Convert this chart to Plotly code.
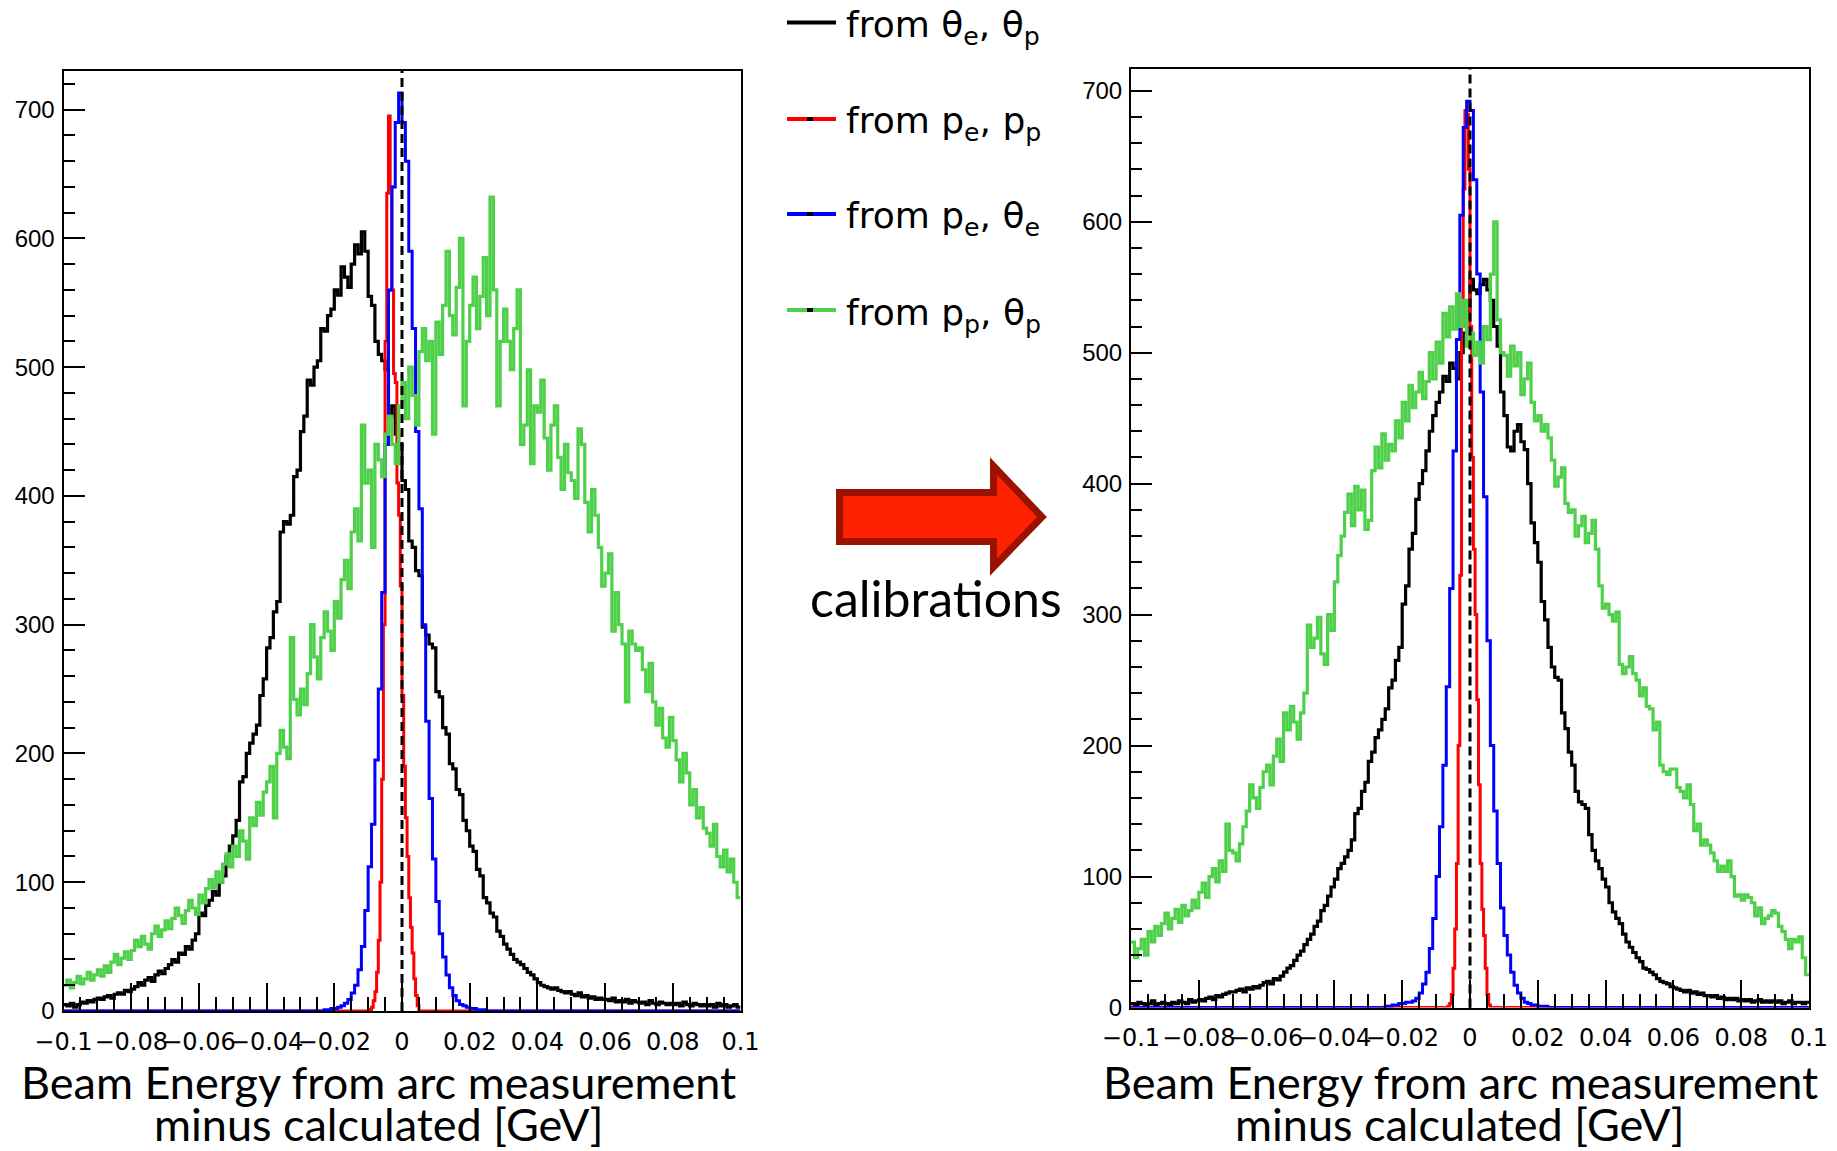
import numpy as np
import plotly.graph_objects as go

W, H = 1837, 1151

# ---------------- data ----------------
# broad histograms: 200 bins of 0.001 GeV from -0.1 to 0.1
broad_start, broad_width = -0.1, 0.001

left_theta_theta = [
    5, 4, 6, 3, 5, 7, 6, 8, 7, 9,
    10, 9, 11, 12, 10, 13, 14, 13, 16, 15,
    17, 19, 22, 20, 24, 26, 23, 28, 31, 29,
    33, 36, 40, 38, 45, 44, 50, 48, 55, 60,
    76, 74, 82, 86, 93, 90, 100, 105, 120, 128,
    136, 148, 178, 182, 200, 208, 215, 222, 245, 258,
    282, 290, 310, 318, 372, 380, 378, 385, 415, 420,
    450, 462, 490, 486, 500, 505, 530, 528, 540, 545,
    560, 556, 578, 570, 562, 580, 595, 588, 605, 590,
    555, 548, 520, 510, 505, 498, 462, 470, 448, 440,
    412, 405, 365, 360, 342, 338, 298, 292, 285, 282,
    248, 244, 220, 215, 192, 188, 172, 168, 148, 140,
    128, 124, 110, 105, 88, 84, 76, 73, 62, 58,
    52, 48, 44, 40, 38, 36, 33, 30, 28, 25,
    22, 20, 19, 18, 17, 18, 16, 15, 14, 15,
    13, 12, 14, 11, 12, 10, 11, 9, 10, 9,
    9, 8, 10, 7, 8, 7, 9, 6, 8, 7,
    6, 7, 5, 8, 6, 5, 7, 6, 5, 6,
    5, 6, 4, 7, 5, 4, 6, 5, 4, 5,
    4, 5, 3, 6, 4, 5, 3, 4, 5, 3]

left_pp_thetap = [
    20, 24, 18, 22, 27, 21, 25, 30, 24, 28,
    32, 27, 35, 30, 38, 44, 36, 41, 46, 40,
    47, 55, 50, 58, 52, 48, 60, 66, 58, 63,
    70, 64, 72, 80, 74, 68, 78, 86, 80, 75,
    90, 84, 95, 102, 96, 108, 100, 114, 122, 112,
    128, 120, 140, 132, 118, 150, 144, 162, 152, 170,
    178, 190, 150, 200, 218, 205, 196, 290, 242, 230,
    250, 238, 262, 300, 275, 258, 290, 310, 295, 280,
    318, 305, 335, 350, 328, 372, 390, 365, 455, 410,
    420, 360, 440, 428, 415, 448, 462, 440, 425, 470,
    488, 460, 500, 478, 455, 512, 530, 505, 520, 448,
    535, 510, 548, 590, 540, 525, 562, 600, 470, 520,
    548, 570, 530, 555, 585, 540, 632, 560, 470, 520,
    545, 520, 498, 530, 560, 440, 455, 498, 425, 470,
    465, 490, 445, 420, 455, 470, 430, 405, 440, 418,
    412, 398, 452, 440, 395, 372, 405, 385, 360, 330,
    340, 355, 295, 325, 300, 285, 240, 295, 285, 280,
    282, 265, 248, 270, 240, 222, 235, 212, 205, 228,
    210, 195, 178, 200, 185, 160, 172, 150, 158, 142,
    138, 128, 145, 120, 112, 125, 108, 118, 100, 88]

right_theta_theta = [
    3, 2, 4, 3, 2, 3, 5, 2, 3, 4,
    3, 2, 4, 3, 5, 4, 3, 6, 4, 5,
    6, 5, 7, 8, 6, 9, 8, 10, 11, 12,
    12, 13, 14, 12, 15, 14, 16, 15, 17, 19,
    20, 18, 22, 21, 24, 27, 30, 32, 36, 40,
    43, 48, 52, 56, 62, 66, 74, 78, 85, 92,
    98, 106, 110, 115, 120, 128, 148, 152, 165, 172,
    188, 195, 206, 212, 220, 228, 244, 250, 265, 275,
    308, 322, 350, 362, 388, 400, 410, 425, 440, 452,
    462, 470, 482, 478, 492, 488, 480, 500, 515, 532,
    556, 548, 545, 552, 556, 548, 540, 520, 505, 470,
    452, 428, 425, 440, 445, 432, 426, 400, 370, 355,
    340, 310, 296, 275, 260, 252, 250, 225, 213, 195,
    185, 165, 157, 155, 152, 132, 120, 112, 106, 98,
    92, 80, 73, 68, 64, 56, 50, 46, 42, 38,
    35, 30, 29, 27, 25, 22, 20, 19, 18, 16,
    15, 14, 13, 12, 13, 11, 12, 10, 11, 9,
    9, 8, 9, 7, 8, 6, 7, 6, 7, 5,
    6, 5, 6, 4, 5, 6, 4, 5, 4, 5,
    4, 5, 3, 4, 5, 3, 4, 4, 3, 4]

right_pp_thetap = [
    50, 38, 45, 52, 40, 58, 50, 62, 55, 64,
    72, 60, 68, 75, 65, 78, 70, 74, 82, 76,
    88, 95, 84, 100, 106, 96, 112, 104, 140, 120,
    118, 112, 125, 138, 150, 170, 160, 152, 168, 180,
    185, 170, 192, 205, 188, 225, 212, 230, 218, 205,
    225, 240, 292, 275, 282, 298, 270, 262, 300, 288,
    325, 345, 360, 378, 392, 368, 398, 380, 395, 365,
    372, 410, 428, 412, 438, 418, 430, 425, 448, 435,
    462, 448, 475, 458, 470, 485, 465, 478, 500, 480,
    508, 492, 530, 512, 535, 518, 545, 520, 540, 505,
    515, 498, 508, 492, 520, 510, 560, 600, 525, 500,
    498, 482, 505, 490, 500, 468, 480, 492, 462, 448,
    452, 440, 445, 435, 418, 398, 405, 412, 385, 378,
    380, 360, 368, 375, 355, 362, 372, 350, 322, 305,
    308, 300, 295, 302, 262, 255, 260, 268, 255, 250,
    238, 244, 230, 228, 212, 218, 185, 180, 178, 182,
    182, 168, 165, 160, 170, 155, 135, 140, 124, 128,
    124, 118, 112, 104, 108, 104, 112, 100, 85, 86,
    82, 86, 84, 80, 70, 76, 64, 68, 70, 74,
    72, 62, 58, 52, 45, 52, 50, 54, 38, 25]

# p_e, theta_e : bins of 0.001 GeV from -0.03 to 0.03
pe_start, pe_width = -0.03, 0.001
left_pe_thetae = [0, 0, 0, 0, 0, 0, 0, 1, 1, 2, 2, 3, 4, 6, 9, 14, 20, 32, 50, 78,
                  112, 145, 195, 250, 325, 440, 560, 640, 690, 713, 690, 660, 590, 530, 450, 390, 300, 225, 165, 118,
                  85, 60, 42, 28, 18, 12, 8, 5, 4, 3, 2, 2, 1, 1, 1, 0, 0, 0, 0, 0]
right_pe_thetae = [0, 0, 0, 0, 0, 1, 1, 2, 2, 3, 3, 4, 4, 5, 7, 11, 18, 27, 45, 68,
                   100, 138, 185, 245, 320, 425, 510, 605, 672, 692, 685, 632, 560, 470, 390, 280, 200, 150, 110, 76,
                   55, 40, 27, 17, 11, 7, 4, 3, 2, 2, 1, 1, 1, 0, 0, 0, 0, 0, 0, 0]

# p_e, p_p : bins of 0.0005 GeV
left_pp_start, right_pp_start, pp_width = -0.0100, -0.0070, 0.0005
left_pe_pp = [0, 1, 3, 8, 15, 30, 55, 100, 180, 300, 520, 635, 695, 640, 560, 495,
              488, 410, 385, 330, 245, 190, 150, 120, 88, 65, 45, 25, 12, 4, 0]
right_pe_pp = [0, 1, 3, 10, 30, 60, 110, 200, 330, 520, 625, 685, 682, 640,
               520, 420, 350, 300, 235, 170, 110, 75, 55, 30, 10, 2, 0]

x_ticks_dtick = 0.02
y_ticks_dtick = 100
y_top = {"left": 730, "right": 717}

legend_labels = ["from θ<sub>e</sub>, θ<sub>p</sub>",
                 "from p<sub>e</sub>, p<sub>p</sub>",
                 "from p<sub>e</sub>, θ<sub>e</sub>",
                 "from p<sub>p</sub>, θ<sub>p</sub>"]
x_title_1 = "Beam Energy from arc measurement"
x_title_2 = "minus calculated [GeV]"
arrow_text = "calibrations"

BLACK, RED, BLUE, GREEN = "#000000", "#ff0000", "#0000ff", "#4fd04a"
legend_colors = [BLACK, RED, BLUE, GREEN]


# --------------- helpers ---------------
def step_full(start, width, vals):
    vals = list(vals)
    edges = start + width * np.arange(len(vals) + 1)
    return edges, vals + [vals[-1]]


def step_padded(start, width, vals):
    vals = list(vals)
    edges = list(start + width * np.arange(len(vals) + 1))
    return [-0.1] + edges + [0.1], [0] + vals + [0, 0]


def PX(x):
    return x / W


def PY(y):
    return 1 - y / H


fig = go.Figure()

panels = [
    ("x", "y", left_theta_theta, left_pe_pp, left_pp_start, left_pe_thetae, left_pp_thetap),
    ("x2", "y2", right_theta_theta, right_pe_pp, right_pp_start, right_pe_thetae, right_pp_thetap),
]
for xa, ya, blk, red, red_start, blu, grn in panels:
    ex, ey = step_full(broad_start, broad_width, blk)
    fig.add_trace(go.Scatter(x=ex, y=ey, mode="lines", line=dict(color=BLACK, width=3.2, shape="hv"),
                             xaxis=xa, yaxis=ya, showlegend=False, hoverinfo="skip"))
    ex, ey = step_padded(red_start, pp_width, red)
    fig.add_trace(go.Scatter(x=ex, y=ey, mode="lines", line=dict(color=RED, width=3, shape="hv"),
                             xaxis=xa, yaxis=ya, showlegend=False, hoverinfo="skip"))
    ex, ey = step_padded(pe_start, pe_width, blu)
    fig.add_trace(go.Scatter(x=ex, y=ey, mode="lines", line=dict(color=BLUE, width=3, shape="hv"),
                             xaxis=xa, yaxis=ya, showlegend=False, hoverinfo="skip"))
    ex, ey = step_full(broad_start, broad_width, grn)
    fig.add_trace(go.Scatter(x=ex, y=ey, mode="lines", line=dict(color=GREEN, width=3.2, shape="hv"),
                             xaxis=xa, yaxis=ya, showlegend=False, hoverinfo="skip"))

xtickfont = dict(family="DejaVu Sans", size=24, color="black")
ytickfont = dict(family="Liberation Sans", size=24, color="black")


def xaxis_cfg(domain, anchor):
    return dict(domain=domain, range=[-0.1, 0.1], dtick=x_ticks_dtick, tick0=0, ticks="inside",
                ticklen=28, tickwidth=2, tickcolor="black", tickangle=0, anchor=anchor,
                minor=dict(dtick=0.005, ticks="inside", ticklen=14, tickwidth=2, tickcolor="black"),
                showline=True, linecolor="black", linewidth=2, mirror=True, automargin=False,
                showgrid=False, zeroline=False, tickfont=xtickfont, ticklabelstandoff=8)


def yaxis_cfg(domain, top, anchor):
    return dict(domain=domain, range=[0, top], dtick=y_ticks_dtick, tick0=0, ticks="inside",
                ticklen=21, tickwidth=2, tickcolor="black", anchor=anchor,
                minor=dict(dtick=20, ticks="inside", ticklen=11, tickwidth=2, tickcolor="black"),
                showline=True, linecolor="black", linewidth=2, mirror=True, automargin=False,
                showgrid=False, zeroline=False, tickfont=ytickfont, ticklabelstandoff=2)


shapes = []
# dashed zero lines
for xr, yr in (("x", "y domain"), ("x2", "y2 domain")):
    shapes.append(dict(type="line", xref=xr, yref=yr, x0=0, x1=0, y0=0, y1=1,
                       line=dict(color="black", width=3, dash="9px,5px")))

# legend lines
legend_line_y = [22.5, 119, 214, 310]
for i, (c, ly) in enumerate(zip(legend_colors, legend_line_y)):
    shapes.append(dict(type="line", xref="paper", yref="paper", x0=PX(787), x1=PX(836),
                       y0=PY(ly), y1=PY(ly), line=dict(color=c, width=4)))
    if i > 0:
        shapes.append(dict(type="rect", xref="paper", yref="paper", x0=PX(807), x1=PX(813),
                           y0=PY(ly - 2), y1=PY(ly + 2), fillcolor="black", line=dict(width=0)))

# arrow
pts = [(839.5, 492.5), (993.5, 492.5), (993.5, 466), (1042, 517), (993.5, 567), (993.5, 541.5), (839.5, 541.5)]
path = "M " + " L ".join(f"{PX(x):.5f},{PY(y):.5f}" for x, y in pts) + " Z"
shapes.append(dict(type="path", xref="paper", yref="paper", path=path, fillcolor="#ff2200",
                   line=dict(color="#9a1200", width=7)))

annotations = []
for lab, ly in zip(legend_labels, legend_line_y):
    annotations.append(dict(text=lab, xref="paper", yref="paper", x=PX(844), y=PY(ly + 5),
                            xanchor="left", yanchor="middle", showarrow=False,
                            font=dict(family="DejaVu Sans", size=36, color="black")))

title_font = dict(family="Lato", size=45, color="black")
for cx in (378.5, 1460):
    annotations.append(dict(text=x_title_1, xref="paper", yref="paper", x=PX(cx), y=PY(1082),
                            xanchor="center", yanchor="middle", showarrow=False, font=title_font))
    annotations.append(dict(text=x_title_2, xref="paper", yref="paper", x=PX(cx), y=PY(1124),
                            xanchor="center", yanchor="middle", showarrow=False, font=title_font))

annotations.append(dict(text=arrow_text, xref="paper", yref="paper", x=PX(936), y=PY(598),
                        xanchor="center", yanchor="middle", showarrow=False,
                        font=dict(family="Lato", size=50, color="black")))

fig.update_layout(
    width=W, height=H, margin=dict(l=0, r=0, t=0, b=0, autoexpand=False),
    paper_bgcolor="white", plot_bgcolor="white",
    xaxis=xaxis_cfg([PX(63.5), PX(740.5)], "y"),
    yaxis=yaxis_cfg([PY(1011), PY(71)], y_top["left"], "x"),
    xaxis2=xaxis_cfg([PX(1131), PX(1809)], "y2"),
    yaxis2=yaxis_cfg([PY(1007.5), PY(68.5)], y_top["right"], "x2"),
    shapes=shapes, annotations=annotations, showlegend=False,
)

fig.write_html("out.html")
